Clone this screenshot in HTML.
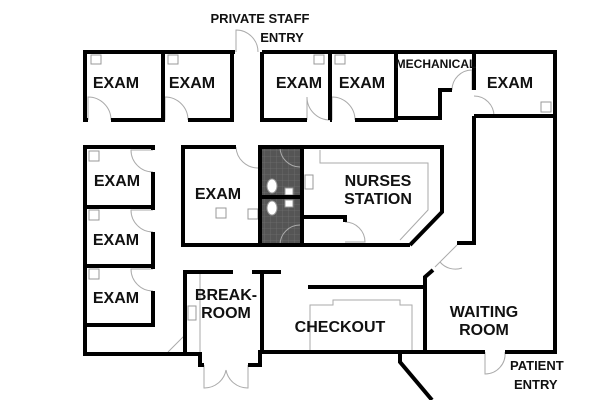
<!DOCTYPE html>
<html><head><style>
html,body{margin:0;padding:0;background:#fff;}
svg{display:block;}
text{font-family:"Liberation Sans",sans-serif;font-weight:bold;fill:#111;}
</style></head><body>
<svg width="600" height="400" viewBox="0 0 600 400" xmlns="http://www.w3.org/2000/svg">
<defs>
<pattern id="g" width="6" height="6" patternUnits="userSpaceOnUse">
<rect width="6" height="6" fill="#555"/><path d="M0 0H6M0 0V6" stroke="#777" stroke-width="0.6"/>
</pattern>
</defs>
<rect x="260" y="147" width="42" height="98" fill="url(#g)"/>
<g fill="none" stroke="#aaa" stroke-width="1">
<path d="M88 120 V97 A23 23 0 0 1 111 120"/>
<path d="M165 120 V97 A23 23 0 0 1 188 120"/>
<path d="M307 120 V97 A23 23 0 0 0 330 120 M332 120 V97 A23 23 0 0 1 355 120"/>
<path d="M452 90 A20 20 0 0 1 472 70 V90"/>
<path d="M474 96 A20 20 0 0 1 494 116"/>
<path d="M236 52 V30 A22 22 0 0 1 258 52"/>
<path d="M153 150 H131 A22 22 0 0 0 153 172"/>
<path d="M153 210 H131 A22 22 0 0 0 153 232"/>
<path d="M153 269 H131 A22 22 0 0 0 153 291"/>
<path d="M236 147 A22 22 0 0 0 258 168"/>
<path d="M280 147 A20 20 0 0 0 300 167 M280 245 A20 20 0 0 1 300 225"/>
<path d="M345 222 A20 20 0 0 1 365 242 H345"/>
<path d="M457 245 L435 267 M440 262 A20 20 0 0 0 462 268"/>
<path d="M485 352 V374 A20 20 0 0 0 505 352"/>
<path d="M204 365 V388 A22 22 0 0 0 226 370 M248 365 V388 A22 22 0 0 1 226 370"/>
<path d="M168 352 L185 335"/>
<path d="M310 350 V305 H333 V300 H400 V305 H412 V350"/>
<path d="M320 150 V163 H428 V210 L400 240"/>
<path d="M200 272 V352"/>
</g>
<g fill="#fff" stroke="#999" stroke-width="1">
<rect x="91" y="55" width="10" height="9"/><rect x="168" y="55" width="10" height="9"/>
<rect x="314" y="55" width="10" height="9"/><rect x="335" y="55" width="10" height="9"/>
<rect x="541" y="102" width="10" height="10"/>
<rect x="89" y="151" width="10" height="10"/><rect x="89" y="210" width="10" height="10"/><rect x="89" y="269" width="10" height="10"/>
<rect x="248" y="209" width="10" height="10"/><rect x="216" y="208" width="10" height="10"/>
<rect x="305" y="175" width="8" height="14"/><rect x="188" y="306" width="8" height="14"/>
<ellipse cx="272" cy="186" rx="5" ry="7"/><ellipse cx="272" cy="208" rx="5" ry="7"/>
<rect x="285" y="188" width="8" height="7"/><rect x="285" y="200" width="8" height="7"/>
</g>
<g fill="none" stroke="#000" stroke-width="4" stroke-linejoin="miter">
<path d="M235 52 H85 V120 H88 M111 120 H163 V52 M163 120 H165 M188 120 H232 V52"/>
<path d="M262 52 H555 V352 H505 M485 352 H260 V365 H248 M204 365 H200 V354 H85 V147 H153 V150 M153 172 V210 M153 232 V269 M153 291 V325 H85"/>
<path d="M262 52 V120 H307 M330 120 H332 M330 52 V120 M355 120 H396 V52 M396 118 H440 V90 H452 M474 52 V90 M474 116 H555 M474 116 V243 H457 M433 270 L425 277 V352"/>
<path d="M85 207 H153 M85 266 H153"/>
<path d="M236 147 H183 V245 H410 M260 147 V245 M302 147 V245 M258 147 H442 V212 L410 245 M260 197 H302 M302 217 H345 V222"/>
<path d="M185 354 V272 H233 M252 272 H281 M262 272 V354 M308 287 H425"/>
<path d="M400 352 V362 L432 400"/>
</g>
<text x="260" y="23" font-size="13" text-anchor="middle">PRIVATE STAFF</text>
<text x="282" y="42" font-size="13" text-anchor="middle">ENTRY</text>
<g font-size="16" text-anchor="middle">
<text x="116" y="88">EXAM</text><text x="192" y="88">EXAM</text>
<text x="299" y="88">EXAM</text><text x="362" y="88">EXAM</text>
<text x="510" y="88">EXAM</text>
<text x="117" y="186">EXAM</text><text x="116" y="245">EXAM</text><text x="116" y="303">EXAM</text>
<text x="218" y="199">EXAM</text>
<text x="378" y="186">NURSES</text><text x="378" y="204">STATION</text>
<text x="226" y="300">BREAK-</text><text x="226" y="318">ROOM</text>
<text x="340" y="332">CHECKOUT</text>
<text x="484" y="317">WAITING</text><text x="484" y="335">ROOM</text>
</g>
<text x="510" y="370" font-size="13">PATIENT</text>
<text x="514" y="389" font-size="13">ENTRY</text>
<text x="436" y="68" font-size="12" text-anchor="middle">MECHANICAL</text>
</svg>
</body></html>
